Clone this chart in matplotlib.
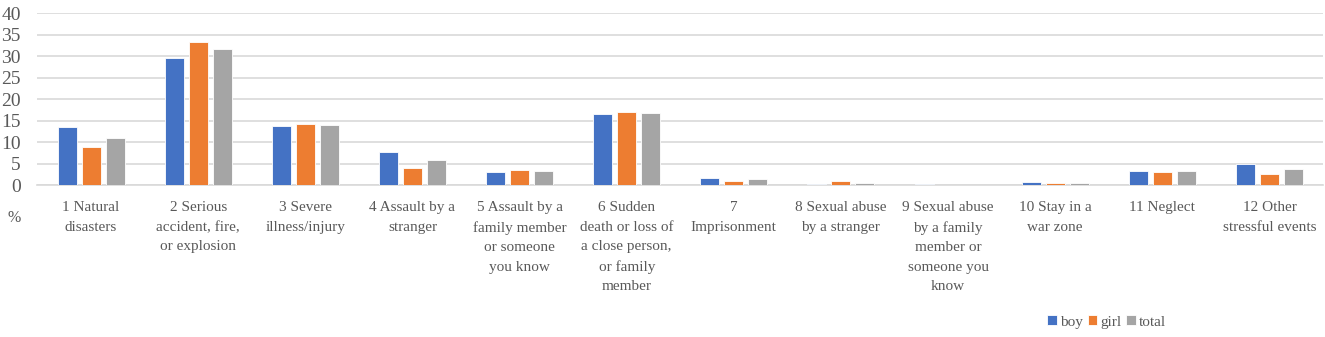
import numpy as np
import matplotlib.pyplot as plt
import matplotlib.transforms as mtransforms

plt.rcParams['font.family'] = ['Liberation Serif', 'DejaVu Serif']

categories = ["1 Natural\ndisasters",
              "2 Serious\naccident, fire,\nor explosion",
              "3 Severe\nillness/injury",
              "4 Assault by a\nstranger",
              "5 Assault by a\nfamily member\nor someone\nyou know",
              "6 Sudden\ndeath or loss of\na close person,\nor family\nmember",
              "7\nImprisonment",
              "8 Sexual abuse\nby a stranger",
              "9 Sexual abuse\nby a family\nmember or\nsomeone you\nknow",
              "10 Stay in a\nwar zone",
              "11 Neglect",
              "12 Other\nstressful events"]
boy = [13.4, 29.6, 13.8, 7.8, 3.1, 16.6, 1.7, 0.25, 0.2, 0.65, 3.3, 4.8]
girl = [8.8, 33.4, 14.1, 3.9, 3.5, 17.1, 0.85, 0.85, 0.0, 0.4, 3.1, 2.6]
total = [10.9, 31.6, 13.9, 5.8, 3.3, 16.8, 1.3, 0.5, 0.1, 0.5, 3.2, 3.7]
series = ["boy", "girl", "total"]
colors = ["#4472C4", "#ED7D31", "#A5A5A5"]

fig = plt.figure(figsize=(13.25, 3.37), dpi=100)
ax = fig.add_axes([0.0283, 0.451, 0.9702, 0.5095])

x = np.arange(len(categories))
w = 0.178
step = 0.224
for i, (vals, name, c) in enumerate(zip([boy, girl, total], series, colors)):
    ax.bar(x + (i - 1) * step, vals, width=w, color=c, label=name,
           edgecolor='white', linewidth=0.6, zorder=3)

ax.set_xlim(-0.5, len(categories) - 0.5)
ax.set_ylim(0, 40)
ax.set_yticks(range(0, 41, 5))
ax.grid(axis='y', color='#d9d9d9', linewidth=1.2, zorder=0)
for s in ['top', 'right', 'left']:
    ax.spines[s].set_visible(False)
ax.spines['bottom'].set_color('#d9d9d9')
ax.spines['bottom'].set_linewidth(1.2)
ax.set_xticks(x)
ax.set_xticklabels([])
ax.tick_params(axis='x', length=0)
ax.tick_params(axis='y', length=0, pad=12, labelsize=14, labelcolor='#595959')

# category labels drawn as text so the line spacing can be widened
trans = mtransforms.blended_transform_factory(ax.transData, ax.transAxes)
for xi, lab in zip(x, categories):
    ax.text(xi, -0.095, lab, transform=trans, ha='center', va='top',
            fontsize=11, color='#595959', linespacing=1.64)

fig.text(0.006, 0.341, "%", fontsize=11.5, color='#595959')

ax.legend(loc='center right', bbox_to_anchor=(0.886, 0.045), bbox_transform=fig.transFigure,
          ncol=3, frameon=False, fontsize=11, handlelength=0.65, handleheight=0.65,
          handletextpad=0.2, columnspacing=0.3, labelcolor='#595959', borderpad=0)

fig.savefig("out.png", dpi=100)
